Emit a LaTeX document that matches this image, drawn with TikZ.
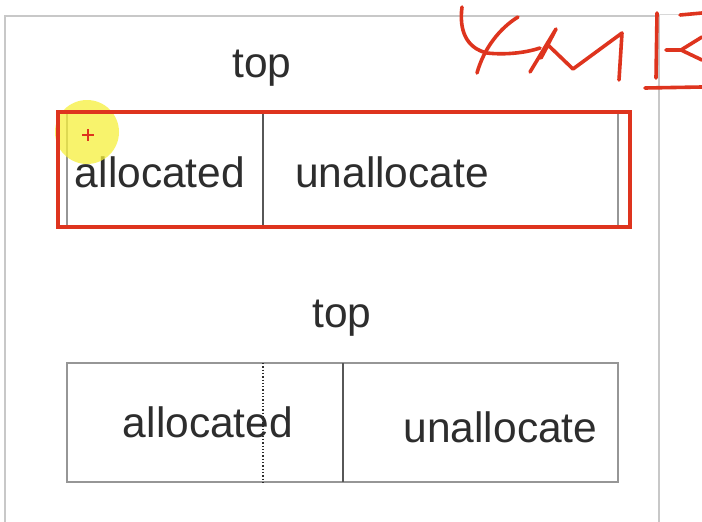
\documentclass[tikz,border=0pt]{standalone}
\usepackage{fontspec}
\setmainfont{Liberation Sans}
\definecolor{txt}{RGB}{45,45,45}
\definecolor{boxgray}{RGB}{150,150,150}
\definecolor{panelgray}{RGB}{200,200,200}
\definecolor{penred}{RGB}{222,52,30}
\definecolor{hiyellow}{RGB}{246,240,60}
\tikzset{
  lbl/.style={font=\fontsize{42.5}{50}\selectfont, text=txt, inner sep=0pt, anchor=base},
  cellbox/.style={draw=boxgray, line width=1.4pt},
  divider/.style={draw=txt!80, line width=1.6pt},
  pen/.style={draw=penred, line width=3.6pt, line cap=round, line join=round},
}
\begin{document}
\begin{tikzpicture}[x=1pt,y=-1pt]
\useasboundingbox (0,0) rectangle (702,522);
\fill[white] (0,0) rectangle (702,522);
% panel
\draw[panelgray, line width=1.6pt] (5,540) -- (5,16) -- (659,16) -- (659,540);
\draw[panelgray!70, line width=1pt] (659,14) -- (702,14);

% labels
\node[lbl] (top1) at (262,77) {top};
\node[lbl] (top2) at (342,327) {top};

% upper buffer
\draw[cellbox] (67,113) rectangle (618,228);
\coordinate (d1t) at (263,113);
\coordinate (d1b) at (263,228);
\draw[divider] (d1t) -- (d1b);
\node[lbl] (alloc1) at (160,187) {allocated};
\node[lbl] (unalloc1) at (392,187) {unallocate};

% lower buffer
\draw[cellbox] (67,363) rectangle (618,482);
\coordinate (d2t) at (263,363);
\coordinate (d2b) at (263,482);
\draw[txt, line width=1.3pt, dotted] (d2t) -- (d2b);
\coordinate (d3t) at (343,363);
\coordinate (d3b) at (343,482);
\draw[divider] (d3t) -- (d3b);
\node[lbl] (alloc2) at (208,437) {allocated};
\node[lbl] (unalloc2) at (500.5,442) {unallocate};

% cursor highlight
\fill[hiyellow, fill opacity=0.75] (87,132) circle (32);
\draw[penred, line width=1.3pt] (82,135) -- (94,135) (88,129) -- (88,141);

% red annotation rectangle
\draw[penred, line width=3.2pt] (58,112) rectangle (630,227);

% handwritten 4MB
\draw[pen] (462,7) .. controls (459,30) and (466,48) .. (487,53) .. controls (505,55) and (525,53) .. (540,48);
\draw[pen] (518,17) .. controls (500,28) and (484,48) .. (477,73);
\draw[pen] (530,72) -- (556,29) -- (541,58) -- (548,45) -- (573,69) -- (622,33) -- (619,80);
\draw[pen] (657,13) -- (656,78);
\draw[pen] (645,88) -- (702,87);
\draw[pen] (680,15) -- (702,13);
\draw[pen] (702,37) -- (681,50) -- (666,50);
\draw[pen] (681,50) -- (702,60);
\end{tikzpicture}
\end{document}
